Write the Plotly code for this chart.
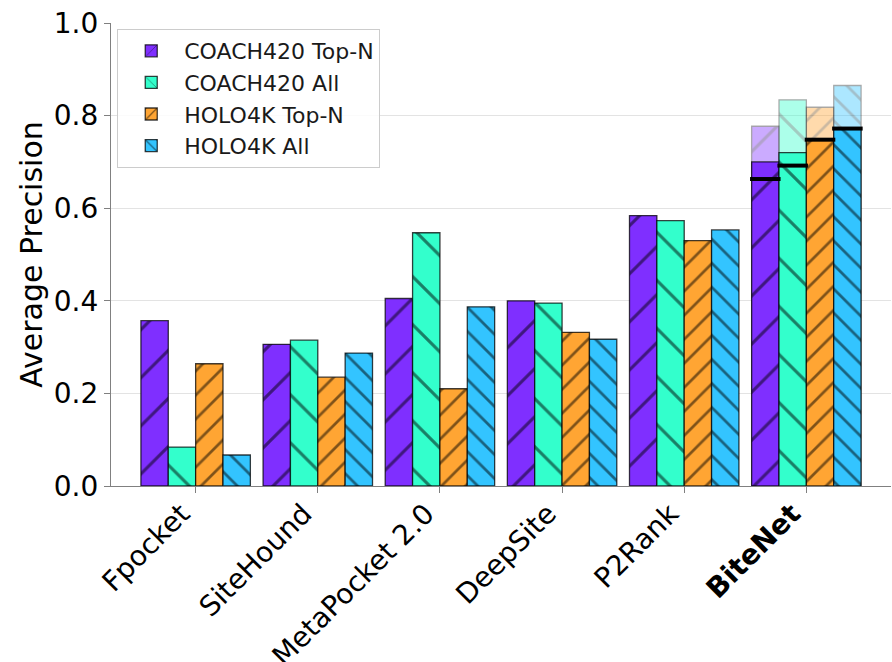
import plotly.graph_objects as go

methods = ["Fpocket", "SiteHound", "MetaPocket 2.0", "DeepSite", "P2Rank", "BiteNet"]
tick_text = ["Fpocket", "SiteHound", "MetaPocket 2.0", "DeepSite", "P2Rank", "<b>BiteNet</b>"]
y_ticks = [0.0, 0.2, 0.4, 0.6, 0.8, 1.0]

coach_topn = [0.357, 0.306, 0.405, 0.400, 0.584, 0.700]
coach_all = [0.084, 0.315, 0.547, 0.395, 0.573, 0.720]
holo_topn = [0.264, 0.235, 0.210, 0.332, 0.530, 0.748]
holo_all = [0.067, 0.287, 0.387, 0.317, 0.553, 0.772]

# BiteNet extra values (translucent upper bars and black reference marks)
bitenet_upper = [0.777, 0.834, 0.818, 0.865]
bitenet_marks = [0.663, 0.692, 0.748, 0.772]

series_names = ["COACH420 Top-N", "COACH420 All", "HOLO4K Top-N", "HOLO4K All"]
series_values = [coach_topn, coach_all, holo_topn, holo_all]
colors = ["#7f2fff", "#33ffcc", "#ffa533", "#33c4ff"]
hatch_shapes = ["/", "\\", "/", "\\"]
hatch_sizes = [34, 34, 17, 17]
hatch_solid = [0.09, 0.09, 0.16, 0.16]

bar_w = 0.224
mark_w = 0.25
offsets = [(k - 1.5) * bar_w for k in range(4)]
idx = list(range(len(methods)))
last = len(methods) - 1

fig = go.Figure()

# translucent upper BiteNet bars (behind)
for k in range(4):
    fig.add_trace(go.Bar(
        x=[last + offsets[k]], y=[bitenet_upper[k]], width=bar_w,
        marker=dict(color=colors[k], line=dict(color="rgba(0,0,0,0.8)", width=1.3),
                    pattern=dict(shape=hatch_shapes[k], size=hatch_sizes[k],
                                 solidity=hatch_solid[k], fgcolor="black")),
        opacity=0.4, showlegend=False, hoverinfo="skip"))

for k in range(4):
    fig.add_trace(go.Bar(
        x=[i + offsets[k] for i in idx], y=series_values[k], width=bar_w,
        name=series_names[k],
        marker=dict(color=colors[k], line=dict(color="rgba(0,0,0,0.75)", width=1.3),
                    pattern=dict(shape=hatch_shapes[k], size=hatch_sizes[k],
                                 solidity=hatch_solid[k], fgcolor="black"))))

# black reference marks on BiteNet bars
mx, my = [], []
for k in range(4):
    c = last + offsets[k]
    mx += [c - mark_w / 2, c + mark_w / 2, None]
    my += [bitenet_marks[k], bitenet_marks[k], None]
fig.add_trace(go.Scatter(x=mx, y=my, mode="lines", line=dict(color="black", width=4),
                         showlegend=False, hoverinfo="skip"))

font_family = "DejaVu Sans"
fig.update_layout(
    width=892, height=662,
    margin=dict(l=111, r=1, t=23, b=176),
    paper_bgcolor="white", plot_bgcolor="white",
    barmode="overlay",
    font=dict(family=font_family, color="black"),
    legend=dict(x=0.008, y=0.987, xanchor="left", yanchor="top", itemwidth=56,
                bgcolor="rgba(255,255,255,0.85)", bordercolor="#cccccc", borderwidth=1,
                font=dict(size=22, family=font_family, color="#1a1a1a")),
    xaxis=dict(range=[-0.693, 5.693], tickmode="array", tickvals=idx, ticktext=tick_text,
               tickangle=-45, tickfont=dict(size=28), showgrid=False, automargin=False,
               ticklabelshift=-14, ticklabelstandoff=-7,
               showline=True, linecolor="#808080", linewidth=1.3,
               ticks="outside", ticklen=6, tickcolor="#808080", zeroline=False),
    yaxis=dict(range=[0, 1.0], tickmode="array", tickvals=y_ticks, automargin=False,
               ticktext=[f"{v:.1f}" for v in y_ticks], tickfont=dict(size=28),
               showgrid=True, gridcolor="#e3e3e3", gridwidth=1,
               showline=True, linecolor="#808080", linewidth=1.3,
               ticks="outside", ticklen=6, tickcolor="#808080", zeroline=False,
               title=dict(text="Average Precision", font=dict(size=30), standoff=2)),
)

fig.write_html("out.html", config={"displayModeBar": False},
               post_script="document.body.style.margin='0';document.body.style.overflow='hidden';")
